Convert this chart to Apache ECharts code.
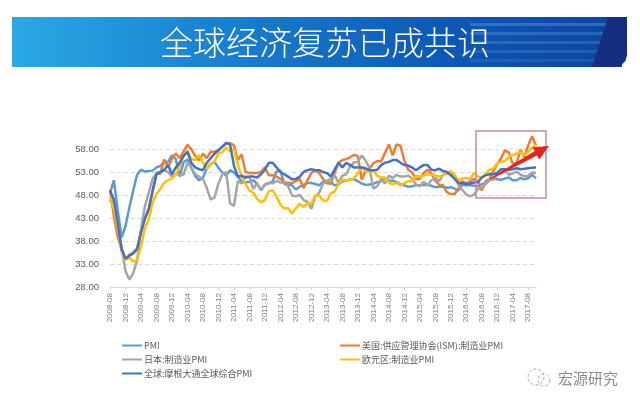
<!DOCTYPE html>
<html><head><meta charset="utf-8">
<script src="https://cdn.jsdelivr.net/npm/echarts@6/dist/echarts.min.js"></script>
<style>html,body{margin:0;padding:0;background:#fff}#c{width:640px;height:406px}</style>
</head><body><div id="c"></div>
<script>
// categories: monthly 2008-08 .. 2017-10
const months = [];
for (let y = 2008, m = 8; !(y === 2017 && m === 11);) {
  months.push(y + '-' + String(m).padStart(2, '0'));
  m++; if (m > 12) { m = 1; y++; }
}
const yMin = 28, yMax = 58, yStep = 5;

const chinaPMI = [48.4,51.2,44.6,38.8,41.2,
 45.3,49.0,52.4,53.5,53.1,53.2,53.3,54.0,54.3,55.2,55.2,56.6,
 55.8,52.0,55.1,55.7,53.9,52.1,51.2,51.7,53.8,54.7,55.2,53.9,
 52.9,52.2,53.4,52.9,52.0,50.9,50.7,50.9,51.2,50.4,49.0,50.3,
 50.5,51.0,53.1,53.3,50.4,50.2,50.1,49.2,49.8,50.2,50.6,50.6,
 50.4,50.1,50.9,50.6,50.8,50.1,50.3,51.0,51.1,51.4,51.4,51.0,
 50.5,50.2,50.3,50.4,50.8,51.0,51.7,51.1,51.1,50.8,50.3,50.1,
 49.8,49.9,50.1,50.1,50.2,50.2,50.0,49.7,49.8,49.8,49.6,49.7,
 49.4,49.0,50.2,50.1,50.1,50.0,49.9,50.4,50.4,51.2,51.7,51.4,
 51.3,51.6,51.8,51.2,51.2,51.7,51.4,51.7,52.4,51.6];

const usISM = [49.2,43.5,38.9,36.2,33.9,
 35.0,35.5,36.3,40.1,42.8,44.8,48.9,52.9,52.6,55.7,54.0,55.9,
 57.0,56.0,57.5,58.9,58.0,56.5,55.5,57.0,56.0,57.4,57.4,57.8,
 58.5,59.2,59.3,58.8,55.6,56.8,53.0,52.8,52.8,52.8,53.0,54.0,
 52.3,52.3,52.0,51.5,50.8,50.6,50.6,51.0,51.5,49.5,51.2,52.8,
 53.4,52.8,51.5,50.6,50.4,52.8,55.0,55.6,55.8,56.2,56.7,56.5,
 51.3,53.2,53.7,54.9,55.4,55.3,57.1,59.0,56.6,59.0,58.7,55.5,
 53.5,52.9,51.5,51.5,52.8,53.5,52.7,51.1,50.2,50.1,48.6,48.2,
 48.2,49.5,51.0,50.5,51.0,51.5,51.0,49.0,51.0,51.5,53.2,54.7,
 56.0,57.7,57.2,54.8,54.9,57.8,56.3,58.8,60.8,58.7];

const japanPMI = [47.0,45.5,42.0,36.5,31.5,
 29.6,31.0,33.8,40.5,45.5,48.5,51.5,52.8,53.0,53.3,53.0,52.0,
 52.5,52.5,52.4,55.0,54.0,52.5,52.0,51.5,49.5,47.0,47.5,50.5,
 52.5,53.0,46.2,45.6,51.0,50.5,52.0,51.9,49.3,50.6,49.1,50.2,
 50.7,50.5,51.1,50.7,50.7,49.9,47.9,47.7,48.0,46.9,46.5,45.0,
 47.7,48.5,50.4,51.1,51.5,52.3,50.7,52.2,52.5,54.2,55.1,55.2,
 56.6,55.5,53.9,49.4,49.9,51.5,50.5,52.2,51.7,52.4,52.0,52.0,
 52.2,51.6,50.3,49.9,50.9,50.1,51.2,51.7,51.0,52.4,52.6,52.6,
 52.3,50.1,49.1,48.1,47.7,48.1,49.3,49.5,50.4,51.4,51.3,52.4,
 52.7,53.3,52.4,52.7,53.1,52.4,52.1,52.2,52.9,52.8];

const euroPMI = [47.6,45.0,41.1,35.6,33.9,
 34.4,33.5,33.9,36.8,40.7,42.6,46.3,48.2,49.3,50.7,51.2,51.6,
 52.4,54.2,56.6,57.6,55.8,55.6,56.7,55.1,53.7,54.6,55.3,57.1,
 57.3,58.3,57.5,58.0,54.6,52.0,50.4,49.0,48.5,47.1,46.4,46.9,
 48.8,49.0,47.7,45.9,45.1,45.1,44.0,45.1,46.1,45.4,46.2,46.1,
 47.9,47.9,46.8,46.7,48.3,48.8,50.3,51.4,51.1,51.3,51.6,52.7,
 54.0,53.2,53.0,53.4,52.2,51.8,51.8,50.7,50.3,50.6,50.1,50.6,
 51.0,51.0,52.2,52.0,52.2,52.5,52.4,52.3,52.0,52.3,52.8,53.2,
 52.3,51.2,51.6,51.7,51.5,52.8,52.0,51.7,52.6,53.5,53.7,54.9,
 55.2,55.4,56.2,56.7,57.0,57.4,56.6,57.4,58.3,59.0];

const globalPMI = [49.0,47.0,42.0,36.2,34.2,
 34.8,35.3,36.3,39.8,42.8,45.0,48.8,52.4,53.0,53.5,54.5,52.5,
 54.0,55.0,56.5,57.4,55.0,54.0,53.6,53.4,55.0,56.0,57.0,57.7,
 58.5,59.3,59.0,54.4,52.0,52.2,51.8,52.0,52.0,51.8,52.5,53.5,
 55.0,55.0,54.0,53.0,52.5,52.0,51.4,51.5,52.0,53.0,53.4,53.6,
 53.4,53.4,53.0,52.8,52.0,53.5,55.0,54.0,55.0,54.5,54.0,54.0,
 54.0,53.8,53.4,53.4,53.5,54.5,55.0,55.2,55.6,55.6,55.0,54.5,
 54.4,54.0,53.4,54.0,54.5,54.5,53.5,53.4,53.7,53.2,53.0,52.3,
 51.5,50.6,50.6,50.4,50.5,50.7,50.8,51.8,52.3,52.5,52.5,52.8,
 53.6,53.6,53.5,53.6,53.8,53.6,53.7,53.8,53.9,54.0];

const seriesNames = ['PMI','美国:供应管理协会(ISM):制造业PMI','日本:制造业PMI','欧元区:制造业PMI','全球:摩根大通全球综合PMI'];
const seriesData = [chinaPMI, usISM, japanPMI, euroPMI, globalPMI];
const colors = ['#5B9BD5','#ED7D31','#A5A5A5','#FFC000','#4472C4'];

const chart = echarts.init(document.getElementById('c'));
const font = "'Liberation Sans','Noto Sans CJK SC',sans-serif";
const cjk = "'Noto Sans CJK SC','Liberation Sans',sans-serif";

chart.setOption({
  animation: false,
  backgroundColor: '#ffffff',
  color: colors,
  grid: { left: 110, right: 104, top: 149, bottom: 119, containLabel: false },
  xAxis: {
    type: 'category', data: months, boundaryGap: false,
    axisLine: { lineStyle: { color: '#d9d9d9', width: 1 } },
    axisTick: { show: true, interval: 3, length: 3, lineStyle: { color: '#d9d9d9' } },
    axisLabel: { interval: 3, rotate: 90, fontSize: 8, color: '#7f7f7f', fontFamily: font, margin: 6 },
    splitLine: { show: false }
  },
  yAxis: {
    type: 'value', min: yMin, max: yMax, interval: yStep,
    axisLine: { show: false }, axisTick: { show: false },
    axisLabel: { fontSize: 9.5, color: '#595959', fontFamily: font, margin: 11,
      formatter: v => v.toFixed(2) },
    splitLine: { lineStyle: { color: '#d9d9d9', type: [4, 3], width: 1 } }
  },
  legend: [
    { data: [seriesNames[0], seriesNames[2], seriesNames[4]], orient: 'vertical', left: 117, top: 336,
      itemGap: 5, itemWidth: 20, itemHeight: 2, icon: 'rect',
      textStyle: { fontSize: 9, color: '#595959', fontFamily: cjk, padding: [0,0,0,-3] } },
    { data: [seriesNames[1], seriesNames[3]], orient: 'vertical', left: 335, top: 336,
      itemGap: 5, itemWidth: 20, itemHeight: 2, icon: 'rect',
      textStyle: { fontSize: 9, color: '#595959', fontFamily: cjk, padding: [0,0,0,-3] } }
  ],
  series: seriesNames.map((n, k) => ({
    name: n, type: 'line', data: seriesData[k], symbol: 'none', clip: false,
    lineStyle: { width: 2.5, color: colors[k] }, itemStyle: { color: colors[k] }
  })),
  graphic: [
    { type: 'rect', shape: { x: 12, y: 17, width: 610, height: 50 },
      style: { fill: new echarts.graphic.LinearGradient(0, 0, 1, 0, [
        { offset: 0, color: '#2aa9e4' }, { offset: 0.35, color: '#1a7fcf' },
        { offset: 0.7, color: '#0e59b6' }, { offset: 1, color: '#0b459d' }]) }, z: 1 },
    { type: 'rect', shape: { x: 470, y: 23, width: 140, height: 3 }, style: { fill: 'rgba(120,170,235,0.35)' }, z: 2 },
    { type: 'rect', shape: { x: 470, y: 32, width: 140, height: 3 }, style: { fill: 'rgba(120,170,235,0.3)' }, z: 2 },
    { type: 'rect', shape: { x: 470, y: 41, width: 140, height: 3 }, style: { fill: 'rgba(120,170,235,0.25)' }, z: 2 },
    { type: 'rect', shape: { x: 470, y: 50, width: 140, height: 3 }, style: { fill: 'rgba(120,170,235,0.2)' }, z: 2 },
    { type: 'rect', shape: { x: 470, y: 59, width: 140, height: 3 }, style: { fill: 'rgba(120,170,235,0.15)' }, z: 2 },
    { type: 'polygon', shape: { points: [[608,17],[627,17],[627,55],[625.4,61],[621,65.4],[615,67],[592,67]] },
      style: { fill: '#152f7e' }, z: 3 },
    { type: 'text', style: { x: 325, y: 42, text: '全球经济复苏已成共识', fill: '#ffffff',
      font: "300 33px 'Noto Sans CJK SC', sans-serif", textAlign: 'center', textVerticalAlign: 'middle' }, z: 4 },
    { type: 'rect', shape: { x: 476, y: 131, width: 70, height: 67 },
      style: { fill: 'none', stroke: '#c98c92', lineWidth: 1.5 }, z: 10 },
    { type: 'polygon', shape: { points: [[490.3,179.5],[537.1,155.5],[539.3,159.4],[549,146],[532.5,147.2],[534.7,151.1],[489.7,178.5]] },
      style: { fill: '#e8231f' }, z: 11 },
    { type: 'circle', shape: { cx: 536, cy: 377, r: 8 }, style: { fill: 'none', stroke: '#aaaaaa', lineWidth: 1, lineDash: [3, 2] }, z: 5 },
    { type: 'circle', shape: { cx: 544, cy: 380, r: 6 }, style: { fill: 'none', stroke: '#aaaaaa', lineWidth: 1, lineDash: [3, 2] }, z: 5 },
    { type: 'text', style: { x: 558, y: 378, text: '宏源研究', fill: '#8c8c8c',
      font: "15px 'Noto Sans CJK SC', sans-serif", textVerticalAlign: 'middle' }, z: 5 }
  ]
});
</script>
</body></html>
